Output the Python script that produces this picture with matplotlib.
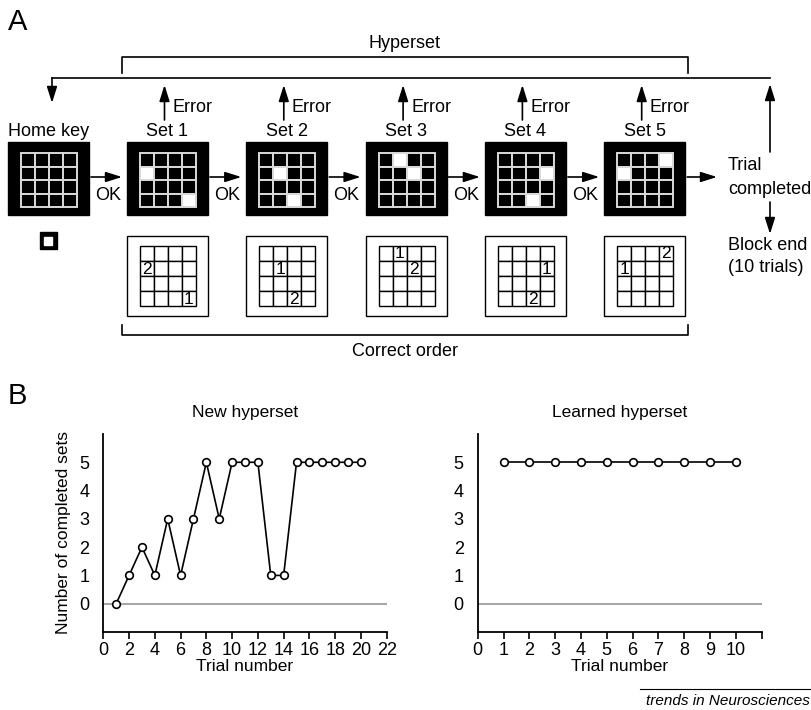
import matplotlib.pyplot as plt
from matplotlib.patches import Rectangle

plt.rcParams['font.family'] = ['Liberation Sans', 'DejaVu Sans']
plt.rcParams['font.size'] = 13

# panel A: the five sets, which cell is pressed first / second (row, col)
set_names = ['Set 1', 'Set 2', 'Set 3', 'Set 4', 'Set 5']
first_cell = [(3, 3), (1, 1), (0, 1), (1, 3), (1, 0)]
second_cell = [(1, 0), (3, 2), (1, 2), (3, 2), (0, 3)]

# panel B
new_trials = [1, 2, 3, 4, 5, 6, 7, 8, 9, 10, 11, 12, 13, 14, 15, 16, 17, 18, 19, 20]
new_sets = [0, 1, 2, 1, 3, 1, 3, 5, 3, 5, 5, 5, 1, 1, 5, 5, 5, 5, 5, 5]
learned_trials = [1, 2, 3, 4, 5, 6, 7, 8, 9, 10]
learned_sets = [5, 5, 5, 5, 5, 5, 5, 5, 5, 5]

W, H = 812, 710
fig = plt.figure(figsize=(W / 100, H / 100), dpi=100)

# overlay in pixel coords for the schematic
ax0 = fig.add_axes([0, 0, 1, 1])
ax0.set_xlim(0, W)
ax0.set_ylim(H, 0)
ax0.axis('off')


def arrow(x1, y1, x2, y2):
    ax0.annotate('', xy=(x2, y2), xytext=(x1, y1),
                 arrowprops=dict(arrowstyle='-|>,head_length=0.7,head_width=0.22',
                                 color='k', lw=1.2, shrinkA=0, shrinkB=0,
                                 mutation_scale=14))


def grid4(x0, y0, w, h, white, face, edge, lw):
    cw, ch = w / 4, h / 4
    for r in range(4):
        for c in range(4):
            fc = 'white' if (r, c) in white else face
            ax0.add_patch(Rectangle((x0 + c * cw, y0 + r * ch), cw, ch,
                                    fc=fc, ec=edge, lw=lw))


bw, bh, btop = 81, 73, 142
lefts = [8] + [127 + i * 119.3 for i in range(5)]
labels = ['Home key'] + set_names

ax0.text(8, 22, 'A', fontsize=21, ha='left', va='center')

# hyperset bracket + feedback loop
ax0.plot([122, 122, 688, 688], [73, 57, 57, 73], color='k', lw=1.2)
ax0.text(405, 43, 'Hyperset', ha='center', va='center')
ax0.plot([52, 770], [78, 78], color='k', lw=1.2)
arrow(52, 78, 52, 103)

for i, (x, lab) in enumerate(zip(lefts, labels)):
    cx = x + bw / 2
    ax0.add_patch(Rectangle((x, btop), bw, bh, fc='k', ec='k'))
    if i == 0:
        white = []
    else:
        white = [first_cell[i - 1], second_cell[i - 1]]
    grid4(x + 13, btop + 11, 56, 54, white, 'k', '#d9d9d9', 1.4)
    ax0.text(cx, 131, lab, ha='center', va='center')
    if i > 0:
        arrow(cx - 3, 120, cx - 3, 85)
        ax0.text(cx + 5, 107, 'Error', ha='left', va='center')
        # lower box with correct order
        ax0.add_patch(Rectangle((x, 236), bw, 80, fc='white', ec='k', lw=1))
        gx, gy = x + 13, 246
        grid4(gx, gy, 56, 60, [], 'white', 'k', 1)
        for num, (r, c) in (('1', first_cell[i - 1]), ('2', second_cell[i - 1])):
            ax0.text(gx + c * 14 + 7, gy + r * 15 + 8, num, ha='center',
                     va='center', fontsize=12.5)
    if i < 5:
        arrow(x + bw + 2, 177, lefts[i + 1] - 5, 177)
        ax0.text((x + bw + lefts[i + 1]) / 2, 196, 'OK', ha='center', va='center')

arrow(lefts[-1] + bw + 2, 177, 717, 177)

# home key button
ax0.add_patch(Rectangle((40, 232), 17, 17, fc='k', ec='k'))
ax0.add_patch(Rectangle((44.5, 236.5), 8, 8, fc='white', ec='white'))

ax0.text(728, 166, 'Trial', ha='left', va='center')
ax0.text(728, 189, 'completed', ha='left', va='center')
arrow(770, 152, 770, 84)
arrow(770, 202, 770, 234)
ax0.text(728, 246, 'Block end', ha='left', va='center')
ax0.text(728, 268, '(10 trials)', ha='left', va='center')

ax0.plot([122, 122, 688, 688], [325, 335, 335, 325], color='k', lw=1.2)
ax0.text(405, 352, 'Correct order', ha='center', va='center')

ax0.text(8, 396, 'B', fontsize=21, ha='left', va='center')

# footer
ax0.plot([640, 810], [689, 689], color='k', lw=0.8)
ax0.text(810, 701, 'trends in Neurosciences', ha='right', va='center',
         fontsize=11, style='italic')

# panel B plots
ax1 = fig.add_axes([103.3 / W, 1 - 632 / H, 283.4 / W, 198 / H])
ax2 = fig.add_axes([477.7 / W, 1 - 632 / H, 284 / W, 198 / H])

for ax, xs, ys, xmax, title in ((ax1, new_trials, new_sets, 22, 'New hyperset'),
                                (ax2, learned_trials, learned_sets, 11, 'Learned hyperset')):
    ax.set_facecolor('none')
    ax.axhline(0, color='#8c8c8c', lw=1.1, zorder=1)
    ax.plot(xs, ys, color='k', lw=1.2, marker='o', ms=5.5, mfc='white',
            mec='k', mew=1.2, zorder=3, clip_on=False)
    ax.set_xlim(0, xmax)
    ax.set_ylim(-1, 6)
    ax.set_yticks([0, 1, 2, 3, 4, 5])
    ax.spines['top'].set_visible(False)
    ax.spines['right'].set_visible(False)
    ax.spines['left'].set_linewidth(1.3)
    ax.spines['bottom'].set_linewidth(1.3)
    ax.tick_params(axis='y', length=0, pad=10, labelsize=13)
    ax.tick_params(axis='x', length=5, width=1.2, direction='out', pad=2, labelsize=13)
    ax.set_title(title, fontsize=12.5, pad=12)
    ax.set_xlabel('Trial number', fontsize=12.5, labelpad=0.5)

ax1.set_xticks(range(0, 23, 2))
ax2.set_xticks(range(0, 12))
ax2.set_xticklabels([str(i) for i in range(11)] + [''])
ax1.set_ylabel('Number of completed sets', fontsize=12.5, labelpad=6)

fig.savefig('out.png', dpi=100)
